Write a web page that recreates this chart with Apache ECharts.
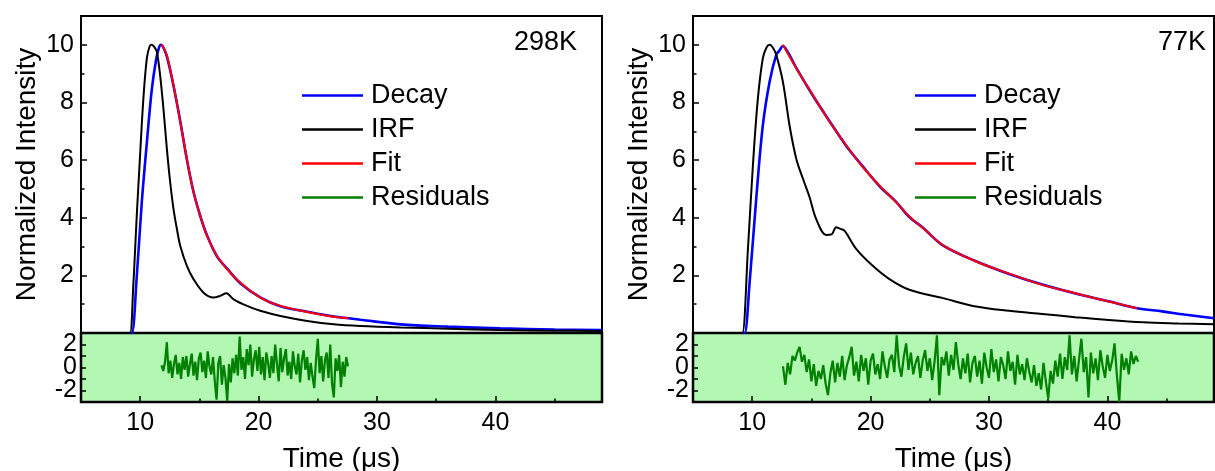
<!DOCTYPE html>
<html>
<head>
<meta charset="utf-8">
<script src="https://cdn.jsdelivr.net/npm/echarts@6/dist/echarts.min.js"></script>
<style>
  html, body { margin: 0; padding: 0; background: #fff; }
  #chart { width: 1215px; height: 471px; }
</style>
</head>
<body>
<div id="chart"></div>
<script>
// ---- 298 K : [time (us), normalized intensity] ----
const decay298 = [[9.1,0],[9.29,0],[9.71,1.97],[10.13,4.52],[10.56,6.6],[10.98,8.45],[11.35,9.5],[11.6,9.92],[11.74,10.0],[11.9,9.95],[12.25,9.6],[12.81,8.58],[13.38,7.36],[13.94,6.02],[14.5,4.9],[15.07,4.06],[15.63,3.4],[16.48,2.66],[17.33,2.24],[18.45,1.73],[20.14,1.24],[21.84,0.93],[24.1,0.74],[26.35,0.57],[27.6,0.51],[28.6,0.46],[32,0.3],[36,0.22],[40.4,0.16],[45,0.12],[49,0.1]];
const irf298 = [[9.0,0],[9.15,0],[9.43,1.75],[9.57,2.9],[9.71,4.08],[9.99,6.17],[10.27,8.14],[10.56,9.53],[10.8,9.95],[10.98,10.0],[11.2,9.92],[11.4,9.77],[11.68,8.95],[11.96,7.79],[12.25,6.4],[12.53,5.24],[12.81,4.31],[13.1,3.61],[13.38,3.03],[13.94,2.33],[14.5,1.87],[15.35,1.4],[16.19,1.23],[16.76,1.29],[17.27,1.38],[17.89,1.17],[19.02,0.94],[20.14,0.77],[21.84,0.59],[24.1,0.42],[26.35,0.3],[28.6,0.24],[32,0.19],[36,0.15],[40.4,0.1],[45,0.08],[49,0.07]];
const fit298 = [[11.74,10.0],[11.9,9.96],[12.25,9.65],[12.81,8.61],[13.38,7.33],[13.94,6.05],[14.5,4.89],[15.07,4.08],[15.63,3.38],[16.48,2.68],[17.33,2.22],[18.45,1.75],[20.14,1.23],[21.84,0.94],[24.1,0.73],[26.35,0.56],[27.6,0.51]];
// residuals sampled every 0.15 us from 11.8 us
const resid298Start = 11.8, resid298Step = 0.15;
const resid298 = [0.2,-0.3,0.5,2.2,-0.5,0.6,-0.9,0.3,1.1,-0.6,0.4,-1.0,0.9,-0.2,1.0,-0.8,0.3,1.2,-0.7,0.5,
  -1.1,0.8,1.3,-0.4,0.6,-0.9,1.4,0.1,-0.6,0.9,-1.2,-2.8,0.4,1.0,-1.5,0.2,-0.9,-2.9,0.3,-1.3,
  0.8,-0.5,1.1,-0.7,2.7,-0.2,0.9,-1.0,1.6,0.2,2.0,-0.8,0.7,1.5,-0.3,1.8,-0.6,0.9,-1.1,1.3,
  0.4,-0.9,1.0,-0.5,2.0,0.3,-1.2,1.7,-0.4,0.8,1.6,-0.7,0.5,-1.0,1.4,0.1,-0.6,1.2,-1.3,0.6,
  1.5,-0.2,0.9,-1.1,0.4,-0.8,-1.8,0.7,2.5,-0.5,1.0,-1.2,0.6,1.3,-0.9,2.0,-1.4,-2.6,0.8,-0.3,
  1.1,-1.7,0.5,-0.8,0.9,0.1];

// ---- 77 K ----
const decay77 = [[9.2,0],[9.36,0],[9.78,1.75],[10.34,4.66],[10.9,7.21],[11.47,8.72],[12.03,9.65],[12.3,9.8],[12.59,9.96],[13.0,9.75],[13.72,9.2],[15.12,8.24],[16.53,7.35],[17.93,6.5],[19.34,5.78],[20.74,5.1],[22.15,4.55],[23.27,4.02],[24.4,3.66],[26.1,3.04],[28.9,2.49],[31.7,2.05],[34.5,1.68],[37.3,1.37],[40.1,1.1],[42.5,0.86],[44.63,0.75],[46.5,0.64],[49,0.51]];
const irf77 = [[9.0,0],[9.17,0],[9.64,2.92],[10.06,5.82],[10.48,8.14],[10.9,9.54],[11.2,9.9],[11.47,10.0],[11.75,9.9],[12.03,9.65],[12.59,8.72],[13.15,7.21],[13.72,6.05],[14.28,5.36],[14.84,4.72],[15.4,3.96],[16.25,3.4],[16.7,3.42],[17.09,3.67],[17.4,3.62],[17.79,3.55],[18.78,2.92],[20.18,2.33],[21.59,1.87],[23.27,1.5],[26.1,1.21],[28.9,0.92],[31.7,0.77],[34.5,0.66],[37.3,0.55],[40.1,0.45],[43,0.37],[46,0.33],[49,0.3]];
const fit77 = [[12.59,10.0],[13.72,9.19],[15.12,8.26],[16.53,7.33],[17.93,6.52],[19.34,5.76],[20.74,5.12],[22.15,4.54],[23.27,4.04],[24.4,3.65],[26.1,3.05],[28.9,2.48],[31.7,2.06],[34.5,1.67],[37.3,1.38],[40.1,1.09],[42.5,0.86]];
// residuals sampled every 0.2 us from 12.6 us
const resid77Start = 12.6, resid77Step = 0.2;
const resid77 = [0.1,-1.5,0.4,-0.6,1.0,0.6,1.3,1.8,0.5,1.1,-0.4,0.7,-1.2,0.3,-1.6,-0.3,-1.0,0.2,-1.4,-2.4,
  -0.5,0.6,-1.3,0.4,-0.8,1.0,-1.1,0.2,0.9,1.8,-0.7,0.5,-1.2,1.1,-0.3,0.8,-1.5,0.6,1.2,-0.6,
  0.3,-1.0,1.4,0.1,-0.9,0.7,1.1,-0.4,2.8,0.2,-0.8,0.9,2.1,-0.2,1.3,-0.6,0.4,1.0,-0.9,0.6,
  1.5,-0.3,0.8,-1.1,0.5,2.8,-2.4,0.9,0.2,1.4,-0.7,1.1,-0.2,2.2,0.3,-1.0,0.8,-0.5,1.2,-1.3,
  0.4,1.0,-0.8,0.6,-1.4,1.3,0.0,-0.9,1.6,-0.4,0.7,-1.2,0.9,0.2,-1.0,1.4,-0.3,0.5,-1.5,1.1,
  -0.6,0.3,-1.1,0.8,-0.4,-1.3,0.2,-1.6,-0.5,-1.9,0.4,-1.2,-2.7,-0.3,-1.4,0.6,-0.8,1.2,-1.0,0.9,
  -0.2,2.8,-0.6,1.0,-1.2,0.7,2.5,-0.4,0.9,-2.6,1.3,-0.5,0.8,-1.1,1.5,0.1,-0.9,1.1,-0.3,0.6,
  2.1,-0.7,-3.0,1.2,-0.2,0.8,-0.6,1.4,0.3,1.0,0.5];

// ---- axis ticks and labels ----
const timeMin = 5, timeMax = 49;
const timeMajor = [10, 20, 30, 40];
const timeMinor = [15, 25, 35, 45];
const residMin = -3, residMax = 3;
const residLabels = [-2, 0, 2];
const panelTitles = ['298K', '77K'];
const legendNames = ['Decay', 'IRF', 'Fit', 'Residuals'];

const FONT = '"Liberation Sans", Arial, sans-serif';
const BLACK = '#000';
const COLORS = { Decay: '#0000ff', IRF: '#000000', Fit: '#ff0000', Residuals: '#008000' };

const toPairs = (start, step, vals) => vals.map((v, i) => [+(start + i * step).toFixed(3), v]);

// panel geometry (px)
const panels = [
  { left: 81, title: panelTitles[0], titleX: 577, legendX: 302 },
  { left: 693, title: panelTitles[1], titleX: 1206, legendX: 915 }
];
const PW = 521, MAIN_TOP = 16, MAIN_H = 317, RES_H = 69;
const TICK_FS = 25, TITLE_FS = 28, LEGEND_FS = 27;

const grids = [], xAxes = [], yAxes = [], legends = [], graphics = [];

panels.forEach((p, k) => {
  grids.push({ left: p.left, top: MAIN_TOP, width: PW, height: MAIN_H, show: true,
    borderColor: BLACK, borderWidth: 2, backgroundColor: '#fff',
    containLabel: false, outerBoundsMode: 'none' });
  grids.push({ left: p.left, top: MAIN_TOP + MAIN_H, width: PW, height: RES_H, show: true,
    borderColor: BLACK, borderWidth: 2.5, backgroundColor: '#b2f7b2',
    containLabel: false, outerBoundsMode: 'none' });
  const gMain = 2 * k, gRes = 2 * k + 1;

  // x: hidden one for the decay plot, labelled one + minor ticks for residuals
  xAxes.push({ type: 'value', gridIndex: gMain, min: timeMin, max: timeMax, show: false });
  xAxes.push({ type: 'value', gridIndex: gRes, min: timeMin, max: timeMax, position: 'bottom',
    axisLine: { show: true, onZero: false, lineStyle: { color: BLACK, width: 2 } },
    axisTick: { show: true, inside: true, length: 6, customValues: timeMajor, lineStyle: { color: BLACK, width: 1.5 } },
    axisLabel: { show: true, customValues: timeMajor, fontSize: TICK_FS, color: BLACK, fontFamily: FONT, margin: 9 },
    splitLine: { show: false },
    name: 'Time (\u03bcs)', nameLocation: 'middle', nameGap: 43,
    nameTextStyle: { fontSize: TITLE_FS, color: BLACK, fontFamily: FONT } });
  xAxes.push({ type: 'value', gridIndex: gRes, min: timeMin, max: timeMax, position: 'bottom', offset: 0,
    axisLine: { show: false, onZero: false },
    axisTick: { show: true, inside: true, length: 3.5, customValues: timeMinor, lineStyle: { color: BLACK, width: 1.5 } },
    axisLabel: { show: false }, splitLine: { show: false } });

  // y: intensity
  yAxes.push({ type: 'value', gridIndex: gMain, min: 0, max: 11, interval: 2,
    axisLine: { show: true, onZero: false, lineStyle: { color: BLACK, width: 2 } },
    axisTick: { show: true, inside: true, length: 6, lineStyle: { color: BLACK, width: 1.5 } },
    minorTick: { show: true, splitNumber: 2, length: 3.5, lineStyle: { color: BLACK, width: 1.5 } },
    axisLabel: { fontSize: TICK_FS, color: BLACK, fontFamily: FONT, margin: 7,
      formatter: v => (v <= 0 || v > 10 ? '' : String(v)) },
    splitLine: { show: false }, minorSplitLine: { show: false },
    name: 'Normalized Intensity', nameLocation: 'middle', nameGap: 40,
    nameTextStyle: { fontSize: TITLE_FS, color: BLACK, fontFamily: FONT } });
  // y: residuals, a tick every unit, labels on even values
  yAxes.push({ type: 'value', gridIndex: gRes, min: residMin, max: residMax, interval: 1,
    axisLine: { show: true, onZero: false, lineStyle: { color: BLACK, width: 2 } },
    axisTick: { show: true, inside: true, length: 5, lineStyle: { color: BLACK, width: 1.5 } },
    axisLabel: { fontSize: TICK_FS, hideOverlap: false, color: BLACK, fontFamily: FONT, margin: 4,
      formatter: v => (residLabels.indexOf(v) >= 0 ? String(v) : '') },
    splitLine: { show: false } });

  legends.push({ orient: 'vertical', left: p.legendX, top: 82, padding: 0, icon: 'rect',
    itemWidth: 61, itemHeight: 2.5, itemGap: 7, selectedMode: false,
    textStyle: { fontSize: LEGEND_FS, color: BLACK, fontFamily: FONT, padding: [0, 0, 0, 3] },
    data: legendNames });

  graphics.push({ type: 'text', z: 100, style: { text: p.title, x: p.titleX, y: 29,
    textAlign: 'right', textVerticalAlign: 'top', fill: BLACK, font: LEGEND_FS + 'px ' + FONT } });
});

function curve(name, data, xi, yi, width, smooth) {
  return { name, type: 'line', data, xAxisIndex: xi, yAxisIndex: yi, symbol: 'none',
    smooth: smooth,
    lineStyle: { color: COLORS[name], width }, itemStyle: { color: COLORS[name] } };
}

const series = [
  curve('Decay', decay298, 0, 0, 2.6, 0.35),
  curve('IRF', irf298, 0, 0, 2, 0.35),
  curve('Fit', fit298, 0, 0, 2, 0.35),
  curve('Residuals', toPairs(resid298Start, resid298Step, resid298), 1, 1, 2.2, false),
  curve('Decay', decay77, 3, 2, 2.6, 0.35),
  curve('IRF', irf77, 3, 2, 2, 0.35),
  curve('Fit', fit77, 3, 2, 2, 0.35),
  curve('Residuals', toPairs(resid77Start, resid77Step, resid77), 4, 3, 2.2, false)
];

const chart = echarts.init(document.getElementById('chart'), null, { renderer: 'canvas' });
chart.setOption({
  animation: false,
  backgroundColor: '#fff',
  grid: grids, xAxis: xAxes, yAxis: yAxes, legend: legends,
  graphic: graphics, series
});
</script>
</body>
</html>
